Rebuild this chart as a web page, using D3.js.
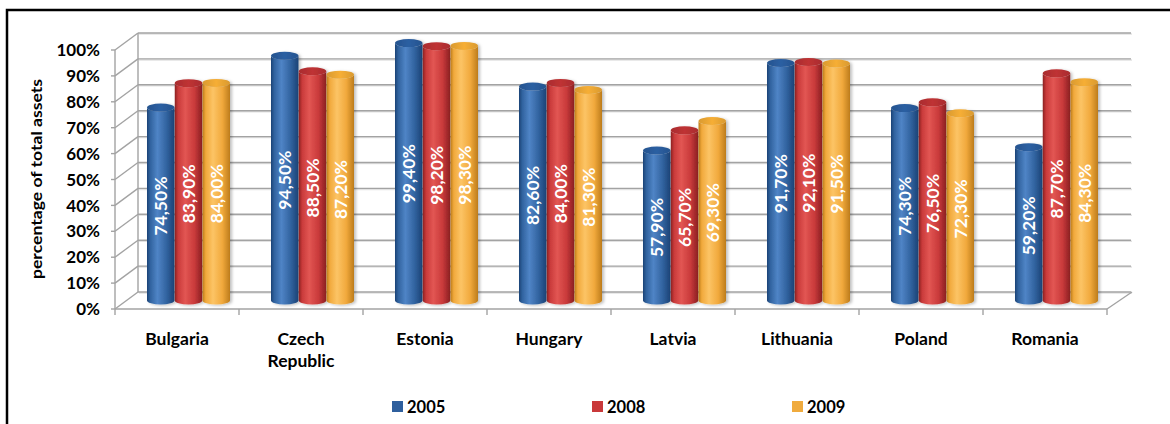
<!DOCTYPE html>
<html>
<head>
<meta charset="utf-8">
<script src="https://cdn.jsdelivr.net/npm/d3@7/dist/d3.min.js"></script>
<style>
  html, body { margin: 0; padding: 0; background: #fff; }
  svg { display: block; }
  text { font-family: Lato, "Open Sans", sans-serif; font-weight: bold; }
</style>
</head>
<body>
<svg id="chart" width="1170" height="424"></svg>
<script>
// Share of total banking assets held by foreign-owned banks
const countries = ["Bulgaria", "Czech Republic", "Estonia", "Hungary", "Latvia", "Lithuania", "Poland", "Romania"];
const years = ["2005", "2008", "2009"];
const values2005 = [74.5, 94.5, 99.4, 82.6, 57.9, 91.7, 74.3, 59.2];
const values2008 = [83.9, 88.5, 98.2, 84.0, 65.7, 92.1, 76.5, 87.7];
const values2009 = [84.0, 87.2, 98.3, 81.3, 69.3, 91.5, 72.3, 84.3];
const yTicks = [0, 10, 20, 30, 40, 50, 60, 70, 80, 90, 100];
const axisTitle = "percentage of total assets";

const seriesValues = [values2005, values2008, values2009];
const palette = {
  "2005": { dark: "#1c4275", light: "#4f84c6", mid: "#31639f", cap: "#26548f", legend: "#2f5f9d" },
  "2008": { dark: "#8a1f22", light: "#e25653", mid: "#c93a3a", cap: "#a92c2e", legend: "#c9393a" },
  "2009": { dark: "#bd7c1a", light: "#fcc465", mid: "#f1a93c", cap: "#d99a30", legend: "#f0ab3e" }
};

const svg = d3.select("#chart");
const defs = svg.append("defs");

// 3D geometry: depth of the plot box
const depthX = 23, depthY = 17;
const x = d3.scaleBand().domain(countries).range([115, 1107]).padding(0);
// back wall scale
const yBack = d3.scaleLinear().domain([0, 100]).range([292, 33]);
const yFront = v => yBack(v) + depthY;
const yMid = v => yBack(v) + depthY / 2;
const sub = d3.scaleBand().domain(years).range([-41.5, 41.5]).paddingInner(0.01);

const fmt = d3.formatLocale({ decimal: ",", thousands: ".", grouping: [3], currency: ["", ""] }).format(".2f");

// gradients for cylinders
years.forEach(yr => {
  const p = palette[yr];
  const g = defs.append("linearGradient").attr("id", "body" + yr).attr("x1", 0).attr("x2", 1).attr("y1", 0).attr("y2", 0);
  g.append("stop").attr("offset", "0%").attr("stop-color", p.dark);
  g.append("stop").attr("offset", "12%").attr("stop-color", p.mid);
  g.append("stop").attr("offset", "38%").attr("stop-color", p.light);
  g.append("stop").attr("offset", "72%").attr("stop-color", p.mid);
  g.append("stop").attr("offset", "100%").attr("stop-color", p.dark);
  const c = defs.append("linearGradient").attr("id", "cap" + yr).attr("x1", 0).attr("x2", 1).attr("y1", 0).attr("y2", 0);
  c.append("stop").attr("offset", "0%").attr("stop-color", p.cap);
  c.append("stop").attr("offset", "50%").attr("stop-color", d3.color(p.cap).brighter(0.35));
  c.append("stop").attr("offset", "100%").attr("stop-color", p.cap);
});
const shadow = defs.append("filter").attr("id", "shadow").attr("x", "-30%").attr("y", "-10%").attr("width", "160%").attr("height", "130%");
shadow.append("feDropShadow").attr("dx", 2).attr("dy", 1).attr("stdDeviation", 1.5).attr("flood-color", "#000").attr("flood-opacity", 0.25);

// outer frame
svg.append("rect").attr("x", 7).attr("y", 10).attr("width", 1200).attr("height", 500)
  .attr("fill", "none").attr("stroke", "#000").attr("stroke-width", 2.5);

const grid = svg.append("g");
const gridColor = "#a3a3a3";
// back-wall gridlines and side-wall diagonals
yTicks.forEach(t => {
  grid.append("line").attr("x1", 139).attr("x2", 1132).attr("y1", yBack(t) + 1).attr("y2", yBack(t) + 1)
    .attr("stroke", "#e2e2e2").attr("stroke-width", 1.5);
  grid.append("line").attr("x1", 138).attr("x2", 1131).attr("y1", yBack(t)).attr("y2", yBack(t))
    .attr("stroke", gridColor).attr("stroke-width", 1.4);
  grid.append("line").attr("x1", 115).attr("x2", 138).attr("y1", yFront(t)).attr("y2", yBack(t))
    .attr("stroke", gridColor).attr("stroke-width", 1.4);
  grid.append("line").attr("x1", 111).attr("x2", 115).attr("y1", yFront(t)).attr("y2", yFront(t))
    .attr("stroke", gridColor).attr("stroke-width", 1.4);
});
// wall edges
grid.append("line").attr("x1", 115).attr("x2", 115).attr("y1", yFront(100)).attr("y2", yFront(0))
  .attr("stroke", gridColor).attr("stroke-width", 1.4);
grid.append("line").attr("x1", 138).attr("x2", 138).attr("y1", yBack(100)).attr("y2", yBack(0))
  .attr("stroke", gridColor).attr("stroke-width", 1.4);
// floor front edge and right edge
grid.append("line").attr("x1", 115).attr("x2", 1107).attr("y1", yFront(0)).attr("y2", yFront(0))
  .attr("stroke", gridColor).attr("stroke-width", 1.4);
grid.append("line").attr("x1", 1107).attr("x2", 1132).attr("y1", yFront(0)).attr("y2", yBack(0))
  .attr("stroke", gridColor).attr("stroke-width", 1.4);
// category ticks
const catEdges = countries.map(c => x(c)).concat([x.range()[1]]);
catEdges.forEach(cx => {
  grid.append("line").attr("x1", cx).attr("x2", cx).attr("y1", yFront(0)).attr("y2", yFront(0) + 6)
    .attr("stroke", gridColor).attr("stroke-width", 1.4);
});

// y tick labels
svg.append("g").selectAll("text").data(yTicks).join("text")
  .attr("x", 100).attr("y", d => yFront(d)).attr("dy", "0.36em")
  .attr("text-anchor", "end").attr("font-size", 17).attr("fill", "#000")
  .text(d => d + "%");

// axis title
svg.append("text")
  .attr("transform", "translate(42,179) rotate(-90)")
  .attr("text-anchor", "middle").attr("font-size", 15.5).attr("fill", "#000")
  .attr("textLength", 200).attr("lengthAdjust", "spacingAndGlyphs")
  .text(axisTitle);

// category labels
const catLabels = svg.append("g");
countries.forEach(c => {
  const t = catLabels.append("text").attr("x", x(c) + x.bandwidth() / 2).attr("y", 345)
    .attr("text-anchor", "middle").attr("font-size", 17.5).attr("fill", "#000");
  c.split(" ").forEach((w, i) => {
    t.append("tspan").attr("x", x(c) + x.bandwidth() / 2).attr("dy", i === 0 ? 0 : 22).text(w);
  });
});

// cylinders
const rx = sub.bandwidth() / 2, ry = 4;
const bars = svg.append("g");
countries.forEach((c, ci) => {
  const cx0 = x(c) + x.bandwidth() / 2 + depthX / 2;
  years.forEach((yr, si) => {
    const v = seriesValues[si][ci];
    const cx = cx0 + sub(yr) + rx;
    const yb = yMid(0), yt = yMid(v);
    const g = bars.append("g").attr("filter", "url(#shadow)");
    g.append("path")
      .attr("d", `M${cx - rx},${yt} L${cx - rx},${yb} A${rx},${ry} 0 0 0 ${cx + rx},${yb} L${cx + rx},${yt} A${rx},${ry} 0 0 1 ${cx - rx},${yt} Z`)
      .attr("fill", `url(#body${yr})`);
    g.append("ellipse").attr("cx", cx).attr("cy", yt).attr("rx", rx).attr("ry", ry)
      .attr("fill", `url(#cap${yr})`);
    bars.append("text")
      .attr("transform", `translate(${cx},${(yt + yb) / 2 + 2}) rotate(-90)`)
      .attr("text-anchor", "middle").attr("dy", "0.36em")
      .attr("font-size", 17.5).attr("fill", "#fff")
      .text(fmt(v) + "%");
  });
});

// legend
const legendX = d3.scalePoint().domain(years).range([392, 792]);
const legend = svg.append("g");
years.forEach(yr => {
  legend.append("rect").attr("x", legendX(yr)).attr("y", 401).attr("width", 11).attr("height", 11)
    .attr("fill", palette[yr].legend);
  legend.append("text").attr("x", legendX(yr) + 15).attr("y", 413)
    .attr("font-size", 16.5).attr("fill", "#000").text(yr);
});
</script>
</body>
</html>
